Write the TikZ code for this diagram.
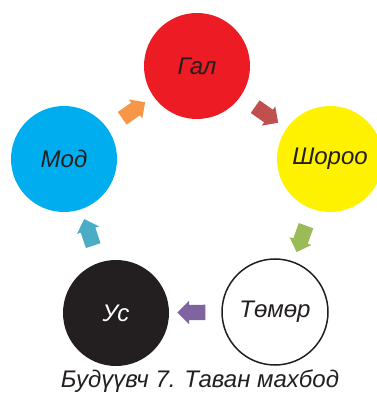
\documentclass[tikz,border=0pt]{standalone}
\usepackage{fontspec}
\setmainfont{Liberation Sans}
\usetikzlibrary{shapes.arrows}
\definecolor{galred}{HTML}{ED1C24}
\definecolor{modblue}{HTML}{00AEEF}
\definecolor{shorooyellow}{HTML}{FFF200}
\definecolor{usblack}{HTML}{231F20}
\definecolor{inktext}{HTML}{231F20}
\definecolor{flowmg}{HTML}{F79646}
\definecolor{flowgs}{HTML}{C0504D}
\definecolor{flowst}{HTML}{9BBB59}
\definecolor{flowtu}{HTML}{8064A2}
\definecolor{flowum}{HTML}{4BACC6}
\tikzset{
  element/.style={circle, minimum size=106pt, inner sep=0pt,
    font=\fontsize{24}{28}\selectfont\itshape, text=inktext},
  flow/.style={single arrow, draw=none, minimum height=28pt,
    inner xsep=0pt, inner ysep=7.5pt, single arrow head extend=4pt,
    sloped, allow upside down}
}
\begin{document}
\begin{tikzpicture}[x=1pt,y=1pt]
  \useasboundingbox (0,0) rectangle (377,394);
  % the five elements
  \node[element, fill=galred] (gal) at (197,328) {Гал};
  \node[element, fill=shorooyellow] (shoroo) at (330,235) {Шороо};
  \node[element, fill=white, draw=usblack, line width=1.5pt] (temor) at (275,82) {Төмөр};
  \node[element, fill=usblack, text=white] (us) at (116,81) {Ус};
  \node[element, fill=modblue] (mod) at (64,235) {Мод};
  % block arrows between them
  \path (mod) -- node[flow, fill=flowmg] (modgal) {} (gal);
  \path (gal) -- node[flow, fill=flowgs] (galshoroo) {} (shoroo);
  \path (shoroo) -- node[flow, fill=flowst] (shorootemor) {} (temor);
  \path (temor) -- node[flow, fill=flowtu] (temorus) {} (us);
  \path (us) -- node[flow, fill=flowum] (usmod) {} (mod);
  \node[font=\fontsize{24}{28}\selectfont\itshape, text=inktext] (caption)
    at (200,13) {Будүүвч 7. Таван махбод};
\end{tikzpicture}
\end{document}
